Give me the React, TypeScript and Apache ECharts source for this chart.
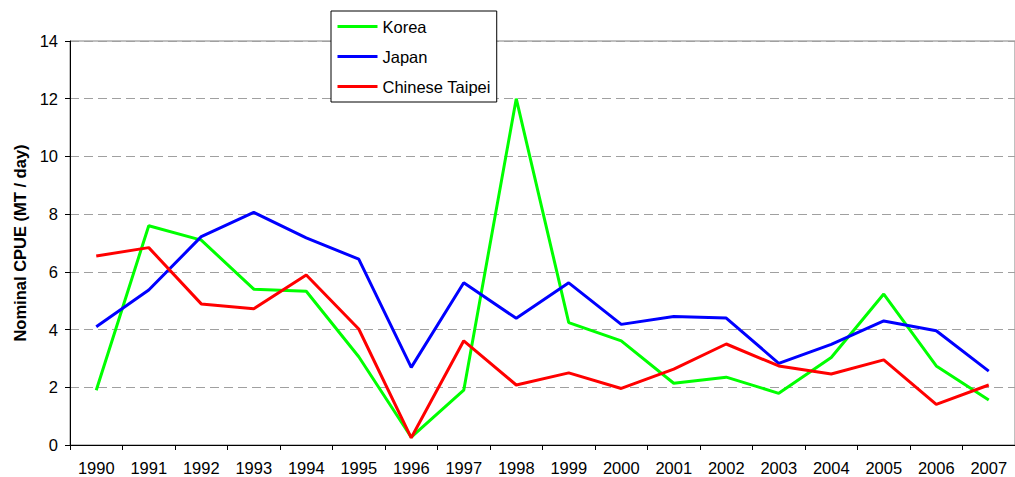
import React, { useEffect, useRef } from "react";
import * as echarts from "echarts";

const years = ["1990","1991","1992","1993","1994","1995","1996","1997","1998","1999","2000","2001","2002","2003","2004","2005","2006","2007"];
const korea = [1.9, 7.6, 7.1, 5.4, 5.33, 3.06, 0.27, 1.9, 12.0, 4.24, 3.61, 2.14, 2.35, 1.79, 3.03, 5.23, 2.74, 1.56];
const japan = [4.1, 5.37, 7.22, 8.06, 7.18, 6.44, 2.69, 5.62, 4.39, 5.62, 4.18, 4.45, 4.4, 2.83, 3.49, 4.3, 3.96, 2.56];
const taipei = [6.55, 6.84, 4.89, 4.72, 5.89, 4.02, 0.25, 3.61, 2.08, 2.5, 1.96, 2.63, 3.5, 2.74, 2.46, 2.95, 1.41, 2.08];

const FONT = "'Liberation Sans', Arial, sans-serif";

export default function App() {
  const ref = useRef<HTMLDivElement>(null);
  useEffect(() => {
    if (!ref.current) return;
    const chart = echarts.init(ref.current, null, { renderer: "svg" });
    const mk = (name: string, data: number[], color: string) => ({
      name,
      type: "line",
      data,
      symbol: "none",
      lineStyle: { color, width: 3 },
      itemStyle: { color },
    });
    chart.setOption({
      animation: false,
      backgroundColor: "#ffffff",
      textStyle: { fontFamily: FONT },
      grid: {
        left: 70,
        right: -12,
        top: 41,
        bottom: 32,
        show: true,
        borderColor: "#808080",
        borderWidth: 1,
        containLabel: false,
      },
      legend: {
        orient: "vertical",
        left: 331,
        top: 11,
        padding: [7, 6, 7, 5],
        itemGap: 13,
        itemWidth: 40,
        itemHeight: 14,
        borderColor: "#000000",
        borderWidth: 1,
        backgroundColor: "#ffffff",
        itemStyle: { opacity: 0 },
        lineStyle: { width: 3 },
        textStyle: { fontFamily: FONT, fontSize: 16.5, color: "#000", padding: [0, 0, 0, 0] },
        data: ["Korea", "Japan", "Chinese Taipei"],
      },
      xAxis: {
        type: "category",
        data: years,
        boundaryGap: true,
        axisLine: { lineStyle: { color: "#000", width: 1 } },
        axisTick: { show: true, length: 5, lineStyle: { color: "#000" } },
        axisLabel: { color: "#000", fontSize: 16.5, fontFamily: FONT, margin: 14, interval: 0 },
        splitLine: { show: false },
      },
      yAxis: {
        type: "value",
        min: 0,
        max: 14,
        interval: 2,
        name: "Nominal CPUE (MT / day)",
        nameLocation: "middle",
        nameGap: 42,
        nameTextStyle: { fontFamily: FONT, fontSize: 16.5, fontWeight: "bold", color: "#000" },
        axisLine: { show: true, lineStyle: { color: "#000", width: 1 } },
        axisTick: { show: true, length: 5, lineStyle: { color: "#000" } },
        axisLabel: { color: "#000", fontSize: 16.5, fontFamily: FONT, margin: 12 },
        splitLine: { show: true, lineStyle: { color: "#a0a0a0", type: [9, 5], width: 1 } },
      },
      series: [mk("Korea", korea, "#00ff00"), mk("Japan", japan, "#0000ff"), mk("Chinese Taipei", taipei, "#ff0000")],
    });
    return () => chart.dispose();
  }, []);
  return (
    <div
      ref={ref}
      style={{ position: "fixed", left: 0, top: 0, width: 1015, height: 477, background: "#fff" }}
    />
  );
}
